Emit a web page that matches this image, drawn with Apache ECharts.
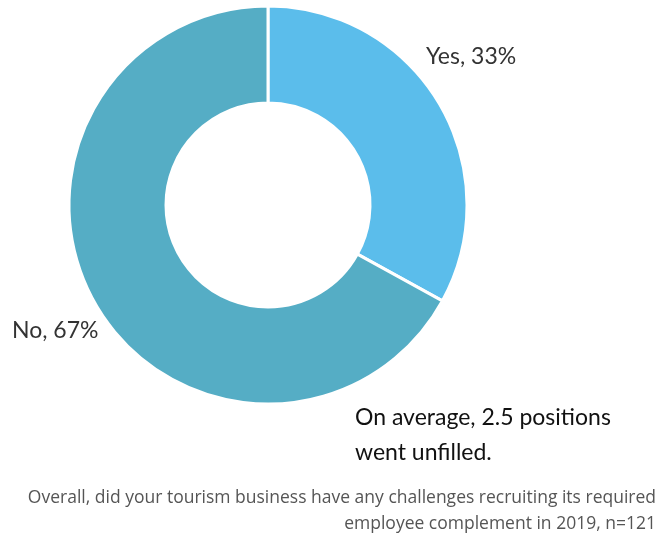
<!DOCTYPE html>
<html>
<head>
<meta charset="utf-8">
<script src="https://cdn.jsdelivr.net/npm/echarts@6/dist/echarts.min.js"></script>
<style>
  html, body { margin: 0; padding: 0; background: #fff; }
  #chart { width: 663px; height: 542px; }
</style>
</head>
<body>
<div id="chart"></div>
<script>
// Survey answers and their shares
const categories = ['Yes', 'No'];
const shares = [33, 67];
const colors = ['#5BBDEB', '#55ADC5'];
// Label anchor points for each slice
const labelPos = [[426, 57, 'left'], [12, 331, 'left']];

const annotation = ['On average, 2.5 positions', 'went unfilled.'];
const footnote = [
  'Overall, did your tourism business have any challenges recruiting its required',
  'employee complement in 2019, n=121'
];

const FONT = 'Lato, "Open Sans", sans-serif';

const chart = echarts.init(document.getElementById('chart'), null, { renderer: 'canvas' });
chart.setOption({
  animation: false,
  series: [{
    type: 'pie',
    center: [268, 205],
    radius: [102, 199],
    startAngle: 90,
    clockwise: true,
    itemStyle: { borderColor: '#fff', borderWidth: 3 },
    label: {
      show: true,
      position: 'outside',
      formatter: p => p.name + ', ' + p.value + '%',
      color: '#333',
      fontSize: 23,
      fontFamily: FONT,
      overflow: 'none'
    },
    labelLine: { show: false },
    labelLayout: p => ({
      x: labelPos[p.dataIndex][0],
      y: labelPos[p.dataIndex][1],
      align: labelPos[p.dataIndex][2],
      verticalAlign: 'middle',
      hideOverlap: false
    }),
    emphasis: { disabled: true },
    data: categories.map((c, i) => ({ name: c, value: shares[i], itemStyle: { color: colors[i] } }))
  }],
  graphic: [
    {
      type: 'text', x: 355, y: 400,
      style: { text: annotation.join('\n'), fill: '#111', font: '23px ' + FONT, lineHeight: 35 }
    },
    {
      type: 'text', x: 656, y: 485,
      style: { text: footnote.join('\n'), fill: '#555', font: '17.5px "Open Sans", sans-serif', lineHeight: 26, align: 'right' }
    }
  ]
});
</script>
</body>
</html>
